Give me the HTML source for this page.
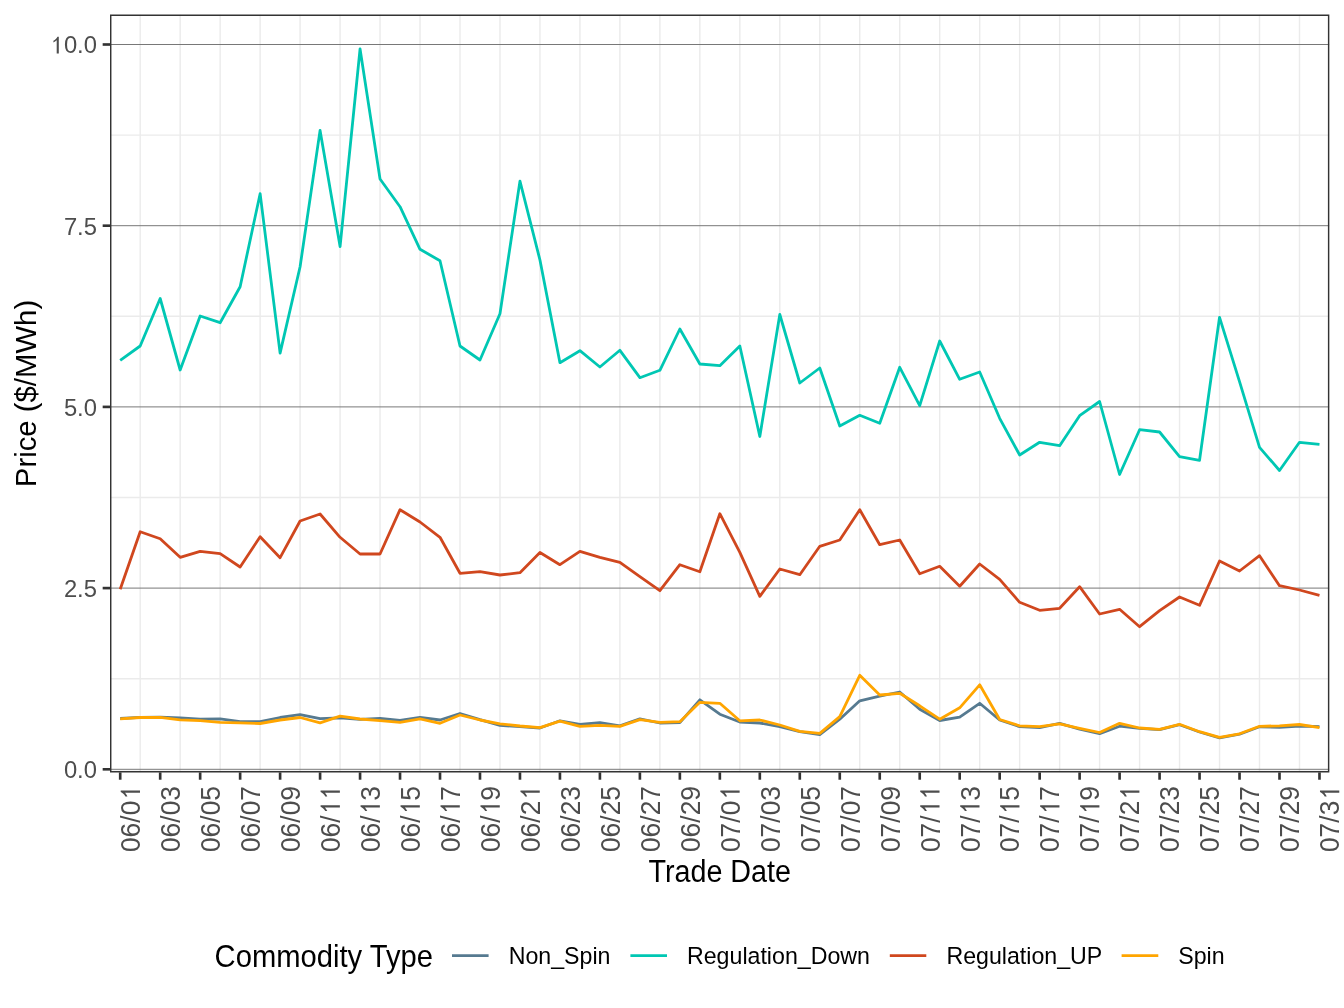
<!DOCTYPE html>
<html><head><meta charset="utf-8"><title>Price chart</title>
<style>html,body{margin:0;padding:0;background:#fff;}body{width:1344px;height:1008px;overflow:hidden;font-family:"Liberation Sans",sans-serif;}svg{display:block;}#c{width:1344px;height:1008px;will-change:transform;}</style></head>
<body>
<div id="c">
<svg width="1344" height="1008" viewBox="0 0 1344 1008">
<rect width="1344" height="1008" fill="#fff"/>
<clipPath id="pc"><rect x="110.0" y="14.55" width="1219.35" height="757.85"/></clipPath>
<g clip-path="url(#pc)">
<g stroke="#EBEBEB" stroke-width="1.42" fill="none">
<line x1="110.0" x2="1329.35" y1="678.70" y2="678.70"/>
<line x1="110.0" x2="1329.35" y1="497.50" y2="497.50"/>
<line x1="110.0" x2="1329.35" y1="316.30" y2="316.30"/>
<line x1="110.0" x2="1329.35" y1="135.10" y2="135.10"/>
<line x1="140.19" x2="140.19" y1="14.55" y2="772.4"/>
<line x1="180.16" x2="180.16" y1="14.55" y2="772.4"/>
<line x1="220.14" x2="220.14" y1="14.55" y2="772.4"/>
<line x1="260.12" x2="260.12" y1="14.55" y2="772.4"/>
<line x1="300.09" x2="300.09" y1="14.55" y2="772.4"/>
<line x1="340.07" x2="340.07" y1="14.55" y2="772.4"/>
<line x1="380.04" x2="380.04" y1="14.55" y2="772.4"/>
<line x1="420.02" x2="420.02" y1="14.55" y2="772.4"/>
<line x1="460.00" x2="460.00" y1="14.55" y2="772.4"/>
<line x1="499.97" x2="499.97" y1="14.55" y2="772.4"/>
<line x1="539.95" x2="539.95" y1="14.55" y2="772.4"/>
<line x1="579.92" x2="579.92" y1="14.55" y2="772.4"/>
<line x1="619.90" x2="619.90" y1="14.55" y2="772.4"/>
<line x1="659.88" x2="659.88" y1="14.55" y2="772.4"/>
<line x1="699.85" x2="699.85" y1="14.55" y2="772.4"/>
<line x1="739.83" x2="739.83" y1="14.55" y2="772.4"/>
<line x1="779.80" x2="779.80" y1="14.55" y2="772.4"/>
<line x1="819.78" x2="819.78" y1="14.55" y2="772.4"/>
<line x1="859.76" x2="859.76" y1="14.55" y2="772.4"/>
<line x1="899.73" x2="899.73" y1="14.55" y2="772.4"/>
<line x1="939.71" x2="939.71" y1="14.55" y2="772.4"/>
<line x1="979.68" x2="979.68" y1="14.55" y2="772.4"/>
<line x1="1019.66" x2="1019.66" y1="14.55" y2="772.4"/>
<line x1="1059.64" x2="1059.64" y1="14.55" y2="772.4"/>
<line x1="1099.61" x2="1099.61" y1="14.55" y2="772.4"/>
<line x1="1139.59" x2="1139.59" y1="14.55" y2="772.4"/>
<line x1="1179.56" x2="1179.56" y1="14.55" y2="772.4"/>
<line x1="1219.54" x2="1219.54" y1="14.55" y2="772.4"/>
<line x1="1259.52" x2="1259.52" y1="14.55" y2="772.4"/>
<line x1="1299.49" x2="1299.49" y1="14.55" y2="772.4"/>
</g>
<g stroke="#787878" stroke-width="1.0" fill="none">
<line x1="110.0" x2="1329.35" y1="769.30" y2="769.30"/>
<line x1="110.0" x2="1329.35" y1="588.10" y2="588.10"/>
<line x1="110.0" x2="1329.35" y1="406.90" y2="406.90"/>
<line x1="110.0" x2="1329.35" y1="225.70" y2="225.70"/>
<line x1="110.0" x2="1329.35" y1="44.50" y2="44.50"/>
</g>
<polyline points="120.20,718.50 140.19,717.30 160.18,717.20 180.16,718.00 200.15,719.20 220.14,718.80 240.13,721.70 260.12,721.70 280.10,717.50 300.09,714.70 320.08,718.70 340.07,717.80 360.06,719.30 380.04,718.30 400.03,720.30 420.02,717.30 440.01,720.00 460.00,713.50 479.98,719.70 499.97,725.30 519.96,726.70 539.95,728.00 559.94,720.80 579.92,724.50 599.91,722.70 619.90,725.80 639.89,718.80 659.88,723.00 679.86,722.70 699.85,699.80 719.84,714.20 739.83,722.00 759.82,723.00 779.80,726.70 799.79,731.70 819.78,734.70 839.77,719.20 859.76,700.80 879.74,696.20 899.73,692.00 919.72,709.20 939.71,720.50 959.70,717.20 979.68,703.30 999.67,720.00 1019.66,726.70 1039.65,727.70 1059.64,723.30 1079.62,729.20 1099.61,733.70 1119.60,726.20 1139.59,728.30 1159.58,729.70 1179.56,724.70 1199.55,732.00 1219.54,737.80 1239.53,734.20 1259.52,726.80 1279.50,727.30 1299.49,726.00 1319.48,726.70" fill="none" stroke="#567A90" stroke-width="2.8" stroke-linejoin="round" stroke-linecap="butt"/>
<polyline points="120.20,360.30 140.19,346.00 160.18,298.50 180.16,370.00 200.15,316.00 220.14,322.70 240.13,286.70 260.12,193.70 280.10,353.10 300.09,266.70 320.08,130.40 340.07,246.60 360.06,49.00 380.04,179.00 400.03,206.70 420.02,249.30 440.01,260.70 460.00,346.00 479.98,360.00 499.97,313.70 519.96,181.10 539.95,260.00 559.94,362.70 579.92,350.70 599.91,367.00 619.90,350.30 639.89,377.70 659.88,370.30 679.86,329.00 699.85,364.00 719.84,365.70 739.83,346.00 759.82,436.50 779.80,314.50 799.79,383.00 819.78,368.00 839.77,426.00 859.76,415.30 879.74,423.30 899.73,367.30 919.72,405.70 939.71,341.00 959.70,379.30 979.68,372.00 999.67,418.30 1019.66,455.00 1039.65,442.30 1059.64,445.70 1079.62,415.70 1099.61,401.50 1119.60,474.50 1139.59,429.70 1159.58,432.00 1179.56,456.70 1199.55,460.30 1219.54,317.30 1239.53,381.70 1259.52,447.30 1279.50,470.50 1299.49,442.30 1319.48,444.30" fill="none" stroke="#00C7B3" stroke-width="2.8" stroke-linejoin="round" stroke-linecap="butt"/>
<polyline points="120.20,589.30 140.19,531.70 160.18,538.70 180.16,557.30 200.15,551.30 220.14,553.70 240.13,567.00 260.12,536.70 280.10,557.70 300.09,521.00 320.08,514.00 340.07,537.30 360.06,554.00 380.04,554.00 400.03,509.70 420.02,522.00 440.01,537.30 460.00,573.30 479.98,571.70 499.97,575.00 519.96,572.70 539.95,552.50 559.94,564.70 579.92,551.30 599.91,557.30 619.90,562.30 639.89,576.70 659.88,590.70 679.86,564.70 699.85,571.70 719.84,513.70 739.83,552.30 759.82,596.30 779.80,569.00 799.79,574.70 819.78,546.30 839.77,540.00 859.76,509.70 879.74,544.70 899.73,540.00 919.72,573.70 939.71,566.30 959.70,586.30 979.68,564.00 999.67,579.30 1019.66,602.30 1039.65,610.30 1059.64,608.30 1079.62,586.70 1099.61,614.00 1119.60,609.30 1139.59,626.70 1159.58,610.70 1179.56,597.00 1199.55,605.30 1219.54,561.00 1239.53,571.00 1259.52,555.70 1279.50,585.70 1299.49,590.00 1319.48,595.30" fill="none" stroke="#D0471E" stroke-width="2.8" stroke-linejoin="round" stroke-linecap="butt"/>
<polyline points="120.20,718.80 140.19,717.50 160.18,717.30 180.16,719.80 200.15,720.70 220.14,722.30 240.13,722.80 260.12,723.50 280.10,720.00 300.09,717.50 320.08,722.80 340.07,716.20 360.06,719.00 380.04,720.70 400.03,722.30 420.02,718.80 440.01,723.30 460.00,715.00 479.98,720.00 499.97,723.80 519.96,726.00 539.95,727.70 559.94,721.20 579.92,726.30 599.91,725.30 619.90,726.30 639.89,719.70 659.88,722.30 679.86,721.70 699.85,702.30 719.84,703.30 739.83,720.80 759.82,720.00 779.80,725.00 799.79,731.30 819.78,733.30 839.77,716.70 859.76,675.30 879.74,695.00 899.73,693.30 919.72,705.80 939.71,719.20 959.70,707.80 979.68,684.80 999.67,719.50 1019.66,725.80 1039.65,726.70 1059.64,723.80 1079.62,728.30 1099.61,732.50 1119.60,723.30 1139.59,728.00 1159.58,729.30 1179.56,724.30 1199.55,731.70 1219.54,737.30 1239.53,733.80 1259.52,726.30 1279.50,725.80 1299.49,724.50 1319.48,727.70" fill="none" stroke="#FFA500" stroke-width="2.8" stroke-linejoin="round" stroke-linecap="butt"/>
<rect x="110.0" y="14.55" width="1219.35" height="757.85" fill="none" stroke="#333333" stroke-width="2.9"/>
</g>
<g stroke="#333333" stroke-width="2.65" fill="none">
<line x1="102.67" x2="110.0" y1="769.30" y2="769.30"/>
<line x1="102.67" x2="110.0" y1="588.10" y2="588.10"/>
<line x1="102.67" x2="110.0" y1="406.90" y2="406.90"/>
<line x1="102.67" x2="110.0" y1="225.70" y2="225.70"/>
<line x1="102.67" x2="110.0" y1="44.50" y2="44.50"/>
<line x1="120.20" x2="120.20" y1="772.4" y2="779.73"/>
<line x1="160.18" x2="160.18" y1="772.4" y2="779.73"/>
<line x1="200.15" x2="200.15" y1="772.4" y2="779.73"/>
<line x1="240.13" x2="240.13" y1="772.4" y2="779.73"/>
<line x1="280.10" x2="280.10" y1="772.4" y2="779.73"/>
<line x1="320.08" x2="320.08" y1="772.4" y2="779.73"/>
<line x1="360.06" x2="360.06" y1="772.4" y2="779.73"/>
<line x1="400.03" x2="400.03" y1="772.4" y2="779.73"/>
<line x1="440.01" x2="440.01" y1="772.4" y2="779.73"/>
<line x1="479.98" x2="479.98" y1="772.4" y2="779.73"/>
<line x1="519.96" x2="519.96" y1="772.4" y2="779.73"/>
<line x1="559.94" x2="559.94" y1="772.4" y2="779.73"/>
<line x1="599.91" x2="599.91" y1="772.4" y2="779.73"/>
<line x1="639.89" x2="639.89" y1="772.4" y2="779.73"/>
<line x1="679.86" x2="679.86" y1="772.4" y2="779.73"/>
<line x1="719.84" x2="719.84" y1="772.4" y2="779.73"/>
<line x1="759.82" x2="759.82" y1="772.4" y2="779.73"/>
<line x1="799.79" x2="799.79" y1="772.4" y2="779.73"/>
<line x1="839.77" x2="839.77" y1="772.4" y2="779.73"/>
<line x1="879.74" x2="879.74" y1="772.4" y2="779.73"/>
<line x1="919.72" x2="919.72" y1="772.4" y2="779.73"/>
<line x1="959.70" x2="959.70" y1="772.4" y2="779.73"/>
<line x1="999.67" x2="999.67" y1="772.4" y2="779.73"/>
<line x1="1039.65" x2="1039.65" y1="772.4" y2="779.73"/>
<line x1="1079.62" x2="1079.62" y1="772.4" y2="779.73"/>
<line x1="1119.60" x2="1119.60" y1="772.4" y2="779.73"/>
<line x1="1159.58" x2="1159.58" y1="772.4" y2="779.73"/>
<line x1="1199.55" x2="1199.55" y1="772.4" y2="779.73"/>
<line x1="1239.53" x2="1239.53" y1="772.4" y2="779.73"/>
<line x1="1279.50" x2="1279.50" y1="772.4" y2="779.73"/>
<line x1="1319.48" x2="1319.48" y1="772.4" y2="779.73"/>
</g>
<g transform="translate(97.00,778.20) scale(1.015,1.045)" font-family="Liberation Sans, sans-serif" font-size="23.47" fill="#4D4D4D">
<text x="-32.63" y="0">0.0</text>
</g>
<g transform="translate(97.00,597.00) scale(1.015,1.045)" font-family="Liberation Sans, sans-serif" font-size="23.47" fill="#4D4D4D">
<text x="-32.63" y="0">2.5</text>
</g>
<g transform="translate(97.00,415.80) scale(1.015,1.045)" font-family="Liberation Sans, sans-serif" font-size="23.47" fill="#4D4D4D">
<text x="-32.63" y="0">5.0</text>
</g>
<g transform="translate(97.00,234.60) scale(1.015,1.045)" font-family="Liberation Sans, sans-serif" font-size="23.47" fill="#4D4D4D">
<text x="-32.63" y="0">7.5</text>
</g>
<g transform="translate(97.00,53.40) scale(1.015,1.045)" font-family="Liberation Sans, sans-serif" font-size="23.47" fill="#4D4D4D">
<path transform="translate(-46.38,0) scale(0.01146,-0.01089)" d="M763 0H583V1147Q530 1092 445 1040T300 962V1112Q420 1172 508 1272T647 1472H763Z"/>
<text x="-32.63" y="0">0.0</text>
</g>
<g transform="translate(140.00,786.00) rotate(-90) scale(1.0,1.07)" font-family="Liberation Sans, sans-serif" font-size="26.4" fill="#4D4D4D">
<text x="-66.06" y="0">06/0</text>
<path transform="translate(-14.29,0) scale(0.01289,-0.01225)" d="M763 0H583V1147Q530 1092 445 1040T300 962V1112Q420 1172 508 1272T647 1472H763Z"/>
</g>
<g transform="translate(179.98,786.00) rotate(-90) scale(1.0,1.07)" font-family="Liberation Sans, sans-serif" font-size="26.4" fill="#4D4D4D">
<text x="-66.06" y="0">06/03</text>
</g>
<g transform="translate(219.95,786.00) rotate(-90) scale(1.0,1.07)" font-family="Liberation Sans, sans-serif" font-size="26.4" fill="#4D4D4D">
<text x="-66.06" y="0">06/05</text>
</g>
<g transform="translate(259.93,786.00) rotate(-90) scale(1.0,1.07)" font-family="Liberation Sans, sans-serif" font-size="26.4" fill="#4D4D4D">
<text x="-66.06" y="0">06/07</text>
</g>
<g transform="translate(299.90,786.00) rotate(-90) scale(1.0,1.07)" font-family="Liberation Sans, sans-serif" font-size="26.4" fill="#4D4D4D">
<text x="-66.06" y="0">06/09</text>
</g>
<g transform="translate(339.88,786.00) rotate(-90) scale(1.0,1.07)" font-family="Liberation Sans, sans-serif" font-size="26.4" fill="#4D4D4D">
<text x="-66.06" y="0">06/</text>
<path transform="translate(-28.97,0) scale(0.01289,-0.01225)" d="M763 0H583V1147Q530 1092 445 1040T300 962V1112Q420 1172 508 1272T647 1472H763Z"/>
<path transform="translate(-14.29,0) scale(0.01289,-0.01225)" d="M763 0H583V1147Q530 1092 445 1040T300 962V1112Q420 1172 508 1272T647 1472H763Z"/>
</g>
<g transform="translate(379.86,786.00) rotate(-90) scale(1.0,1.07)" font-family="Liberation Sans, sans-serif" font-size="26.4" fill="#4D4D4D">
<text x="-66.06" y="0">06/</text>
<path transform="translate(-28.97,0) scale(0.01289,-0.01225)" d="M763 0H583V1147Q530 1092 445 1040T300 962V1112Q420 1172 508 1272T647 1472H763Z"/>
<text x="-14.68" y="0">3</text>
</g>
<g transform="translate(419.83,786.00) rotate(-90) scale(1.0,1.07)" font-family="Liberation Sans, sans-serif" font-size="26.4" fill="#4D4D4D">
<text x="-66.06" y="0">06/</text>
<path transform="translate(-28.97,0) scale(0.01289,-0.01225)" d="M763 0H583V1147Q530 1092 445 1040T300 962V1112Q420 1172 508 1272T647 1472H763Z"/>
<text x="-14.68" y="0">5</text>
</g>
<g transform="translate(459.81,786.00) rotate(-90) scale(1.0,1.07)" font-family="Liberation Sans, sans-serif" font-size="26.4" fill="#4D4D4D">
<text x="-66.06" y="0">06/</text>
<path transform="translate(-28.97,0) scale(0.01289,-0.01225)" d="M763 0H583V1147Q530 1092 445 1040T300 962V1112Q420 1172 508 1272T647 1472H763Z"/>
<text x="-14.68" y="0">7</text>
</g>
<g transform="translate(499.78,786.00) rotate(-90) scale(1.0,1.07)" font-family="Liberation Sans, sans-serif" font-size="26.4" fill="#4D4D4D">
<text x="-66.06" y="0">06/</text>
<path transform="translate(-28.97,0) scale(0.01289,-0.01225)" d="M763 0H583V1147Q530 1092 445 1040T300 962V1112Q420 1172 508 1272T647 1472H763Z"/>
<text x="-14.68" y="0">9</text>
</g>
<g transform="translate(539.76,786.00) rotate(-90) scale(1.0,1.07)" font-family="Liberation Sans, sans-serif" font-size="26.4" fill="#4D4D4D">
<text x="-66.06" y="0">06/2</text>
<path transform="translate(-14.29,0) scale(0.01289,-0.01225)" d="M763 0H583V1147Q530 1092 445 1040T300 962V1112Q420 1172 508 1272T647 1472H763Z"/>
</g>
<g transform="translate(579.74,786.00) rotate(-90) scale(1.0,1.07)" font-family="Liberation Sans, sans-serif" font-size="26.4" fill="#4D4D4D">
<text x="-66.06" y="0">06/23</text>
</g>
<g transform="translate(619.71,786.00) rotate(-90) scale(1.0,1.07)" font-family="Liberation Sans, sans-serif" font-size="26.4" fill="#4D4D4D">
<text x="-66.06" y="0">06/25</text>
</g>
<g transform="translate(659.69,786.00) rotate(-90) scale(1.0,1.07)" font-family="Liberation Sans, sans-serif" font-size="26.4" fill="#4D4D4D">
<text x="-66.06" y="0">06/27</text>
</g>
<g transform="translate(699.66,786.00) rotate(-90) scale(1.0,1.07)" font-family="Liberation Sans, sans-serif" font-size="26.4" fill="#4D4D4D">
<text x="-66.06" y="0">06/29</text>
</g>
<g transform="translate(739.64,786.00) rotate(-90) scale(1.0,1.07)" font-family="Liberation Sans, sans-serif" font-size="26.4" fill="#4D4D4D">
<text x="-66.06" y="0">07/0</text>
<path transform="translate(-14.29,0) scale(0.01289,-0.01225)" d="M763 0H583V1147Q530 1092 445 1040T300 962V1112Q420 1172 508 1272T647 1472H763Z"/>
</g>
<g transform="translate(779.62,786.00) rotate(-90) scale(1.0,1.07)" font-family="Liberation Sans, sans-serif" font-size="26.4" fill="#4D4D4D">
<text x="-66.06" y="0">07/03</text>
</g>
<g transform="translate(819.59,786.00) rotate(-90) scale(1.0,1.07)" font-family="Liberation Sans, sans-serif" font-size="26.4" fill="#4D4D4D">
<text x="-66.06" y="0">07/05</text>
</g>
<g transform="translate(859.57,786.00) rotate(-90) scale(1.0,1.07)" font-family="Liberation Sans, sans-serif" font-size="26.4" fill="#4D4D4D">
<text x="-66.06" y="0">07/07</text>
</g>
<g transform="translate(899.54,786.00) rotate(-90) scale(1.0,1.07)" font-family="Liberation Sans, sans-serif" font-size="26.4" fill="#4D4D4D">
<text x="-66.06" y="0">07/09</text>
</g>
<g transform="translate(939.52,786.00) rotate(-90) scale(1.0,1.07)" font-family="Liberation Sans, sans-serif" font-size="26.4" fill="#4D4D4D">
<text x="-66.06" y="0">07/</text>
<path transform="translate(-28.97,0) scale(0.01289,-0.01225)" d="M763 0H583V1147Q530 1092 445 1040T300 962V1112Q420 1172 508 1272T647 1472H763Z"/>
<path transform="translate(-14.29,0) scale(0.01289,-0.01225)" d="M763 0H583V1147Q530 1092 445 1040T300 962V1112Q420 1172 508 1272T647 1472H763Z"/>
</g>
<g transform="translate(979.50,786.00) rotate(-90) scale(1.0,1.07)" font-family="Liberation Sans, sans-serif" font-size="26.4" fill="#4D4D4D">
<text x="-66.06" y="0">07/</text>
<path transform="translate(-28.97,0) scale(0.01289,-0.01225)" d="M763 0H583V1147Q530 1092 445 1040T300 962V1112Q420 1172 508 1272T647 1472H763Z"/>
<text x="-14.68" y="0">3</text>
</g>
<g transform="translate(1019.47,786.00) rotate(-90) scale(1.0,1.07)" font-family="Liberation Sans, sans-serif" font-size="26.4" fill="#4D4D4D">
<text x="-66.06" y="0">07/</text>
<path transform="translate(-28.97,0) scale(0.01289,-0.01225)" d="M763 0H583V1147Q530 1092 445 1040T300 962V1112Q420 1172 508 1272T647 1472H763Z"/>
<text x="-14.68" y="0">5</text>
</g>
<g transform="translate(1059.45,786.00) rotate(-90) scale(1.0,1.07)" font-family="Liberation Sans, sans-serif" font-size="26.4" fill="#4D4D4D">
<text x="-66.06" y="0">07/</text>
<path transform="translate(-28.97,0) scale(0.01289,-0.01225)" d="M763 0H583V1147Q530 1092 445 1040T300 962V1112Q420 1172 508 1272T647 1472H763Z"/>
<text x="-14.68" y="0">7</text>
</g>
<g transform="translate(1099.42,786.00) rotate(-90) scale(1.0,1.07)" font-family="Liberation Sans, sans-serif" font-size="26.4" fill="#4D4D4D">
<text x="-66.06" y="0">07/</text>
<path transform="translate(-28.97,0) scale(0.01289,-0.01225)" d="M763 0H583V1147Q530 1092 445 1040T300 962V1112Q420 1172 508 1272T647 1472H763Z"/>
<text x="-14.68" y="0">9</text>
</g>
<g transform="translate(1139.40,786.00) rotate(-90) scale(1.0,1.07)" font-family="Liberation Sans, sans-serif" font-size="26.4" fill="#4D4D4D">
<text x="-66.06" y="0">07/2</text>
<path transform="translate(-14.29,0) scale(0.01289,-0.01225)" d="M763 0H583V1147Q530 1092 445 1040T300 962V1112Q420 1172 508 1272T647 1472H763Z"/>
</g>
<g transform="translate(1179.38,786.00) rotate(-90) scale(1.0,1.07)" font-family="Liberation Sans, sans-serif" font-size="26.4" fill="#4D4D4D">
<text x="-66.06" y="0">07/23</text>
</g>
<g transform="translate(1219.35,786.00) rotate(-90) scale(1.0,1.07)" font-family="Liberation Sans, sans-serif" font-size="26.4" fill="#4D4D4D">
<text x="-66.06" y="0">07/25</text>
</g>
<g transform="translate(1259.33,786.00) rotate(-90) scale(1.0,1.07)" font-family="Liberation Sans, sans-serif" font-size="26.4" fill="#4D4D4D">
<text x="-66.06" y="0">07/27</text>
</g>
<g transform="translate(1299.30,786.00) rotate(-90) scale(1.0,1.07)" font-family="Liberation Sans, sans-serif" font-size="26.4" fill="#4D4D4D">
<text x="-66.06" y="0">07/29</text>
</g>
<g transform="translate(1339.28,786.00) rotate(-90) scale(1.0,1.07)" font-family="Liberation Sans, sans-serif" font-size="26.4" fill="#4D4D4D">
<text x="-66.06" y="0">07/3</text>
<path transform="translate(-14.29,0) scale(0.01289,-0.01225)" d="M763 0H583V1147Q530 1092 445 1040T300 962V1112Q420 1172 508 1272T647 1472H763Z"/>
</g>
<text transform="translate(719.70,882.00) scale(0.98,1.05)" font-family="Liberation Sans, sans-serif" font-size="29.33" fill="#000" text-anchor="middle">Trade Date</text>
<text transform="translate(36.30,393.50) rotate(-90) scale(1.0,1.03)" font-family="Liberation Sans, sans-serif" font-size="29.33" fill="#000" text-anchor="middle">Price ($/MWh)</text>
<text transform="translate(214.60,967.00) scale(0.995,1.05)" font-family="Liberation Sans, sans-serif" font-size="29.33" fill="#000" text-anchor="start">Commodity Type</text>
<line x1="452.0" x2="488.6" y1="955.72" y2="955.72" stroke="#567A90" stroke-width="2.7"/>
<line x1="630.4" x2="667.0" y1="955.72" y2="955.72" stroke="#00C7B3" stroke-width="2.7"/>
<line x1="889.8" x2="926.3" y1="955.72" y2="955.72" stroke="#D0471E" stroke-width="2.7"/>
<line x1="1121.6" x2="1158.3" y1="955.72" y2="955.72" stroke="#FFA500" stroke-width="2.7"/>
<text transform="translate(508.70,964.20) scale(0.988,1.05)" font-family="Liberation Sans, sans-serif" font-size="23.47" fill="#000" text-anchor="start">Non_Spin</text>
<text transform="translate(687.00,964.20) scale(0.988,1.05)" font-family="Liberation Sans, sans-serif" font-size="23.47" fill="#000" text-anchor="start">Regulation_Down</text>
<text transform="translate(946.40,964.20) scale(0.988,1.05)" font-family="Liberation Sans, sans-serif" font-size="23.47" fill="#000" text-anchor="start">Regulation_UP</text>
<text transform="translate(1178.20,964.20) scale(0.988,1.05)" font-family="Liberation Sans, sans-serif" font-size="23.47" fill="#000" text-anchor="start">Spin</text>
</svg>
</div>
</body></html>
